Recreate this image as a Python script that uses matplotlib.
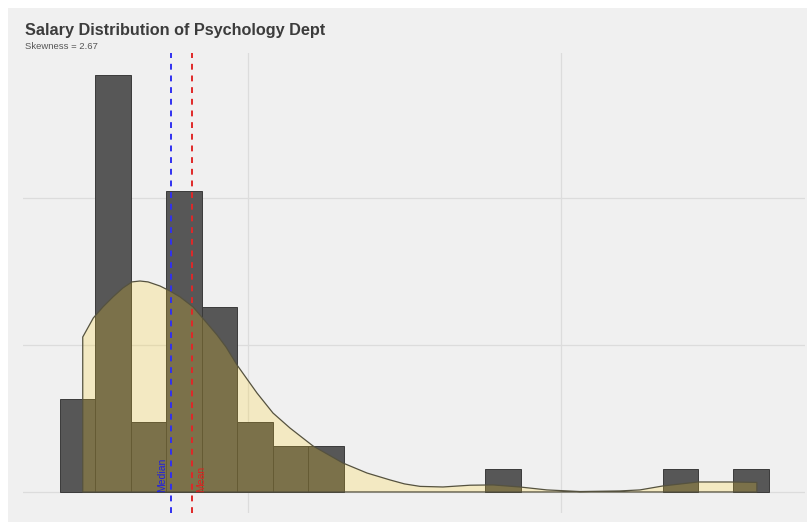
import numpy as np
import matplotlib
matplotlib.use("Agg")
import matplotlib.pyplot as plt
from matplotlib.patches import Rectangle

# ---- data ----
title = "Salary Distribution of Psychology Dept"
subtitle = "Skewness = 2.67"
bin_start = 39940
bin_width = 11326
counts = [4, 18, 3, 13, 8, 3, 2, 2, 0, 0, 0, 0, 1, 0, 0, 0, 0, 1, 0, 1]
n_obs = 56
median_salary = 75400
mean_salary = 82100

# kernel density curve (salary, density in units of 1e-5)
dens_x = [47190, 50580, 53670, 56870, 60060, 62940, 65490, 68050, 71880, 75080,
          78270, 82430, 85620, 90100, 93000, 96490, 102880, 107990, 113420, 120770,
          130350, 138020, 145370, 150000, 155000, 162300, 170930, 178280, 186900, 195530,
          206070, 218850, 225240, 232590, 243770, 254000, 262620]
dens_y = [1.054, 1.184, 1.259, 1.327, 1.388, 1.429, 1.435, 1.429, 1.401, 1.367,
          1.327, 1.259, 1.180, 1.068, 0.985, 0.864, 0.673, 0.537, 0.435, 0.313,
          0.197, 0.129, 0.082, 0.055, 0.038, 0.034, 0.046, 0.048, 0.034, 0.014,
          0.003, 0.007, 0.014, 0.041, 0.068, 0.068, 0.065]

# ---- figure ----
W, H = 807, 522
fig = plt.figure(figsize=(W / 100, H / 100), dpi=100)
fig.patch.set_facecolor("white")
fig.add_artist(Rectangle((8 / W, 0), 1 - 8 / W, 1 - 8 / H, transform=fig.transFigure,
                         facecolor="#F0F0F0", edgecolor="none", zorder=0))

ax = fig.add_axes([23 / W, (H - 513) / H, (805 - 23) / W, (513 - 53) / H])
ax.set_facecolor("#F0F0F0")
for s in ax.spines.values():
    s.set_visible(False)
ax.set_xticks([])
ax.set_yticks([])

ax.set_xlim(28100, 278000)
ax.set_ylim(-1.43e-6, 2.986e-5)

# grid
for gx in [100000, 200000]:
    ax.axvline(gx, color="#DCDCDC", lw=0.9, zorder=1)
for gy in [0, 1e-5, 2e-5]:
    ax.axhline(gy, color="#DCDCDC", lw=0.9, zorder=1)

# histogram (density scale)
counts_arr = np.array(counts, dtype=float)
lefts = bin_start + bin_width * np.arange(len(counts))
heights = counts_arr / (n_obs * bin_width)
mask = counts_arr > 0
ax.bar(lefts[mask], heights[mask], width=bin_width, align="edge",
       color="#575757", edgecolor="#3a3a3a", linewidth=0.7, zorder=2)

# density polygon
dx = np.array(dens_x, dtype=float)
dy = np.array(dens_y) * 1e-5
px = np.concatenate([[dx[0]], dx, [dx[-1]]])
py = np.concatenate([[0], dy, [0]])
ax.fill(px, py, facecolor=(1.0, 0.82, 0.12, 0.22), edgecolor="#55523f",
        linewidth=0.9, zorder=3)

# median / mean lines
ax.axvline(median_salary, color="#3030f0", lw=1.4, ls=(0, (3, 3)), zorder=4)
ax.axvline(mean_salary, color="#e02828", lw=1.4, ls=(0, (3, 3)), zorder=4)
ax.annotate("Median", xy=(median_salary, 0), xytext=(-3, 0), textcoords="offset points",
            rotation=90, rotation_mode="anchor", ha="left", va="bottom",
            color="#2020e0", fontsize=7.5, family="Liberation Sans", zorder=5)
ax.annotate("Mean", xy=(mean_salary, 0), xytext=(3, 0), textcoords="offset points",
            rotation=90, rotation_mode="anchor", ha="left", va="top",
            color="#e02020", fontsize=7.5, family="Liberation Sans", zorder=5)

# titles
fig.text(25 / W, 1 - 35 / H, title, fontsize=11.7, fontweight="bold",
         family="Liberation Sans", color="#3c3c3c", ha="left", va="baseline")
fig.text(25 / W, 1 - 49 / H, subtitle, fontsize=6.8,
         family="Liberation Sans", color="#555555", ha="left", va="baseline")

fig.savefig("out.png", dpi=100, facecolor=fig.get_facecolor())
